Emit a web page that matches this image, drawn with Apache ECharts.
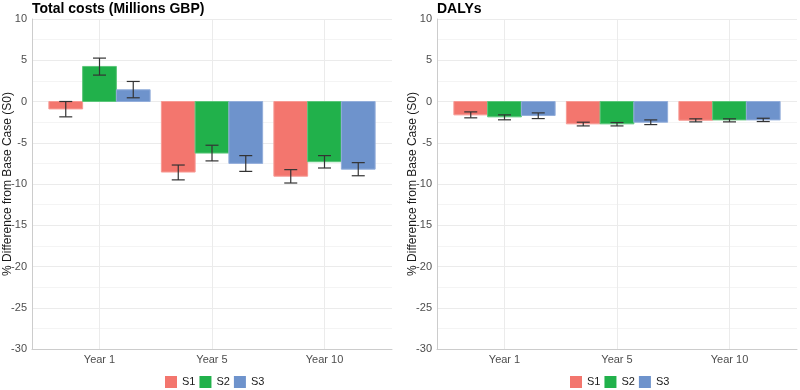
<!DOCTYPE html>
<html>
<head>
<meta charset="utf-8">
<script src="https://cdn.jsdelivr.net/npm/echarts@6/dist/echarts.min.js"></script>
<style>html,body{margin:0;padding:0;background:#fff}#c{width:800px;height:390px}</style>
</head>
<body>
<div id="c"></div>
<script>
var categories = ['Year 1', 'Year 5', 'Year 10'];
var seriesNames = ['S1', 'S2', 'S3'];
var panelTitles = ['Total costs (Millions GBP)', 'DALYs'];
var yTicks = [10, 5, 0, -5, -10, -15, -20, -25, -30];

// Total costs (% difference from S0)
var costS1 = [-0.9, -8.55, -9.05];
var costS2 = [4.25, -6.25, -7.3];
var costS3 = [1.42, -7.5, -8.2];
var costS1Low = [-1.86, -9.5, -9.88];
var costS1High = [0.0, -7.7, -8.26];
var costS2Low = [3.2, -7.2, -8.06];
var costS2High = [5.26, -5.3, -6.56];
var costS3Low = [0.45, -8.47, -9.0];
var costS3High = [2.43, -6.56, -7.41];

// DALYs (% difference from S0)
var dalyS1 = [-1.62, -2.71, -2.27];
var dalyS2 = [-1.86, -2.71, -2.23];
var dalyS3 = [-1.7, -2.51, -2.23];
var dalyS1Low = [-1.98, -2.96, -2.47];
var dalyS1High = [-1.26, -2.51, -2.1];
var dalyS2Low = [-2.22, -2.96, -2.47];
var dalyS2High = [-1.62, -2.55, -2.1];
var dalyS3Low = [-2.07, -2.8, -2.43];
var dalyS3High = [-1.38, -2.23, -2.03];

var colors = ['#F3766E', '#21B14B', '#6E93CC'];
var borders = ['#F79A94', '#5CC67A', '#93AEDB'];

var panels = [
  {vals: [costS1, costS2, costS3], low: [costS1Low, costS2Low, costS3Low], high: [costS1High, costS2High, costS3High]},
  {vals: [dalyS1, dalyS2, dalyS3], low: [dalyS1Low, dalyS2Low, dalyS3Low], high: [dalyS1High, dalyS2High, dalyS3High]}
];

var grids = [
  {left: 32, top: 19, width: 360, height: 330, outerBoundsMode: 'none', containLabel: false},
  {left: 437, top: 19, width: 360, height: 330, outerBoundsMode: 'none', containLabel: false}
];
var dodge = 0.3;

var option = {
  animation: false,
  textStyle: {fontFamily: 'Liberation Sans, Arial, sans-serif'},
  title: panelTitles.map(function (t, i) {
    return {text: t, left: grids[i].left, top: 2, padding: 0,
      textStyle: {fontSize: 14, fontWeight: 'bold', color: '#000', fontFamily: 'Liberation Sans, Arial, sans-serif'}};
  }),
  legend: [0, 1].map(function (i) {
    return {data: seriesNames, left: i === 0 ? 160 : 565, top: 371, itemWidth: 12, itemHeight: 12, itemGap: 4,
      icon: 'rect', textStyle: {fontSize: 11, color: '#1a1a1a'}, selectedMode: false};
  }),
  grid: grids,
  xAxis: [0, 1].map(function (i) {
    return {
      type: 'value', gridIndex: i, min: 0.4, max: 3.6,
      axisLine: {show: true, onZero: false, lineStyle: {color: '#cccccc', width: 1}},
      axisTick: {show: false, customValues: [1, 2, 3]},
      axisLabel: {customValues: [1, 2, 3], color: '#4d4d4d', fontSize: 11, margin: 5,
        formatter: function (v) { return categories[Math.round(v) - 1] || ''; }},
      splitLine: {show: true, lineStyle: {color: '#ebebeb', width: 1}}
    };
  }),
  yAxis: [0, 1].map(function (i) {
    return {
      type: 'value', gridIndex: i, min: yTicks[yTicks.length - 1], max: yTicks[0], interval: 5,
      name: '% Difference from Base Case (S0)', nameLocation: 'middle', nameGap: 18, nameMoveOverlap: false,
      nameTextStyle: {fontSize: 12, color: '#1a1a1a'},
      axisLine: {show: true, lineStyle: {color: '#cccccc', width: 1}},
      axisTick: {show: false},
      axisLabel: {color: '#4d4d4d', fontSize: 11, margin: 5},
      splitLine: {show: true, lineStyle: {color: '#ebebeb', width: 1}},
      minorTick: {show: false, splitNumber: 2},
      minorSplitLine: {show: true, lineStyle: {color: '#f4f4f4', width: 1}}
    };
  }),
  series: []
};

panels.forEach(function (p, pi) {
  seriesNames.forEach(function (name, si) {
    var data = p.vals[si].map(function (v, ci) { return [ci + 1 + (si - 1) * dodge, v]; });
    option.series.push({
      type: 'custom', name: name, xAxisIndex: pi, yAxisIndex: pi, data: data, z: 2,
      itemStyle: {color: colors[si]},
      renderItem: function (params, api) {
        var x = api.value(0);
        var half = api.size([dodge, 0])[0] / 2;
        var a = api.coord([x, 0]);
        var b = api.coord([x, api.value(1)]);
        var top = Math.min(a[1], b[1]);
        var h = Math.abs(a[1] - b[1]);
        return {type: 'rect', shape: {x: a[0] - half, y: top, width: half * 2, height: h},
          style: {fill: colors[si], stroke: borders[si], lineWidth: 1}};
      }
    });
  });
  var errData = [];
  seriesNames.forEach(function (name, si) {
    p.vals[si].forEach(function (v, ci) {
      errData.push([ci + 1 + (si - 1) * dodge, p.low[si][ci], p.high[si][ci]]);
    });
  });
  option.series.push({
    type: 'custom', name: 'err' + pi, xAxisIndex: pi, yAxisIndex: pi, z: 3, data: errData,
    renderItem: function (params, api) {
      var x = api.value(0);
      var lo = api.coord([x, api.value(1)]);
      var hi = api.coord([x, api.value(2)]);
      var hw = 6.5;
      var st = {stroke: '#333333', lineWidth: 1.2};
      return {type: 'group', children: [
        {type: 'line', shape: {x1: lo[0], y1: lo[1], x2: hi[0], y2: hi[1]}, style: st},
        {type: 'line', shape: {x1: lo[0] - hw, y1: lo[1], x2: lo[0] + hw, y2: lo[1]}, style: st},
        {type: 'line', shape: {x1: hi[0] - hw, y1: hi[1], x2: hi[0] + hw, y2: hi[1]}, style: st}
      ]};
    }
  });
});

var chart = echarts.init(document.getElementById('c'), null, {renderer: 'canvas'});
chart.setOption(option);
</script>
</body>
</html>
